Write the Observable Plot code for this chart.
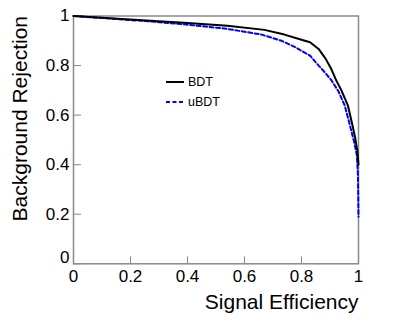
<!DOCTYPE html>
<html>
<head>
<meta charset="utf-8">
<script src="https://cdn.jsdelivr.net/npm/d3@7"></script>
<script src="https://cdn.jsdelivr.net/npm/@observablehq/plot@0.6"></script>
<style>
  html, body { margin: 0; padding: 0; background: #fff; }
  #wrap { position: relative; width: 407px; height: 322px; font-family: "Liberation Sans", Arial, sans-serif; }
  #legend { position: absolute; left: 166px; top: 72px; font-size: 12.5px; line-height: 20px; color: #000; }
  #legend div { display: flex; align-items: center; height: 20px; }
  #legend svg { margin-right: 4px; }
</style>
</head>
<body>
<div id="wrap"></div>
<script>
const seriesNames = ["BDT", "uBDT"];
const bdtEff = [0, 0.27, 0.4, 0.54, 0.67, 0.74, 0.80, 0.83, 0.86, 0.885, 0.905, 0.92, 0.94, 0.963, 0.979, 0.988, 0.996, 1.0];
const bdtRej = [1.0, 0.981, 0.972, 0.961, 0.944, 0.925, 0.904, 0.894, 0.867, 0.827, 0.785, 0.745, 0.700, 0.638, 0.558, 0.51, 0.457, 0.40];
const ubdtEff = [0, 0.27, 0.4, 0.54, 0.66, 0.73, 0.78, 0.83, 0.86, 0.88, 0.906, 0.93, 0.952, 0.973, 0.985, 0.994, 0.998, 1.0];
const ubdtRej = [1.0, 0.978, 0.965, 0.948, 0.925, 0.900, 0.873, 0.840, 0.800, 0.775, 0.739, 0.695, 0.638, 0.545, 0.49, 0.44, 0.36, 0.19];
const xTicks = [0, 0.2, 0.4, 0.6, 0.8, 1];
const yTicks = [0.2, 0.4, 0.6, 0.8, 1];
const yZeroTick = [0];
const xTitle = "Signal Efficiency";
const yTitle = "Background Rejection";

const bdt = bdtEff.map((e, i) => ({eff: e, rej: bdtRej[i]}));
const ubdt = ubdtEff.map((e, i) => ({eff: e, rej: ubdtRej[i]}));

const axisColor = "#8a8a8a";

const chart = Plot.plot({
  width: 407,
  height: 322,
  marginLeft: 73,
  marginRight: 49,
  marginTop: 15.5,
  marginBottom: 58.7,
  style: { fontFamily: "Liberation Sans, Arial, sans-serif", fontSize: "17px", color: "#000", background: "#fff" },
  x: { domain: [0, 1] },
  y: { domain: [0, 1] },
  marks: [
    Plot.frame({ stroke: axisColor, strokeWidth: 1.5 }),
    Plot.axisX({ ticks: xTicks, tickSize: -7, text: null, stroke: axisColor, label: null }),
    Plot.axisX({ ticks: xTicks, tickSize: 0, tickPadding: 6, fontSize: 17, tickFormat: d => String(d), label: null, fill: "#000" }),
    Plot.axisY({ ticks: [0, ...yTicks], tickSize: -8, text: null, stroke: axisColor, label: null }),
    Plot.axisY({ ticks: yTicks, tickSize: 0, tickPadding: 4, fontSize: 17, tickFormat: d => String(d), label: null, fill: "#000" }),
    Plot.axisY({ ticks: yZeroTick, tickSize: 0, tickPadding: 4, fontSize: 17, dy: -6, tickFormat: d => String(d), label: null, fill: "#000" }),
    Plot.line(ubdt, { x: "eff", y: "rej", stroke: "#0000ff", strokeWidth: 2, strokeDasharray: "4,2.5" }),
    Plot.line(bdt, { x: "eff", y: "rej", stroke: "#000", strokeWidth: 2 }),
    Plot.text([xTitle], { frameAnchor: "bottom-right", text: d => d, textAnchor: "end", dy: 45, fontSize: 21, fill: "#000" }),
    Plot.text([yTitle], { frameAnchor: "top-left", text: d => d, rotate: -90, textAnchor: "end", dx: -61, fontSize: 21, fill: "#000" })
  ]
});

const wrap = document.getElementById("wrap");
wrap.appendChild(chart);

const legend = document.createElement("div");
legend.id = "legend";
const styles = [
  { stroke: "#000", dash: null },
  { stroke: "#0000ff", dash: "4,2.5" }
];
seriesNames.forEach((name, i) => {
  const row = document.createElement("div");
  const s = styles[i];
  row.innerHTML = `<svg width="18" height="6"><line x1="0" x2="18" y1="3" y2="3" stroke="${s.stroke}" stroke-width="2" ${s.dash ? `stroke-dasharray="${s.dash}"` : ""}/></svg><span>${name}</span>`;
  legend.appendChild(row);
});
wrap.appendChild(legend);
</script>
</body>
</html>
